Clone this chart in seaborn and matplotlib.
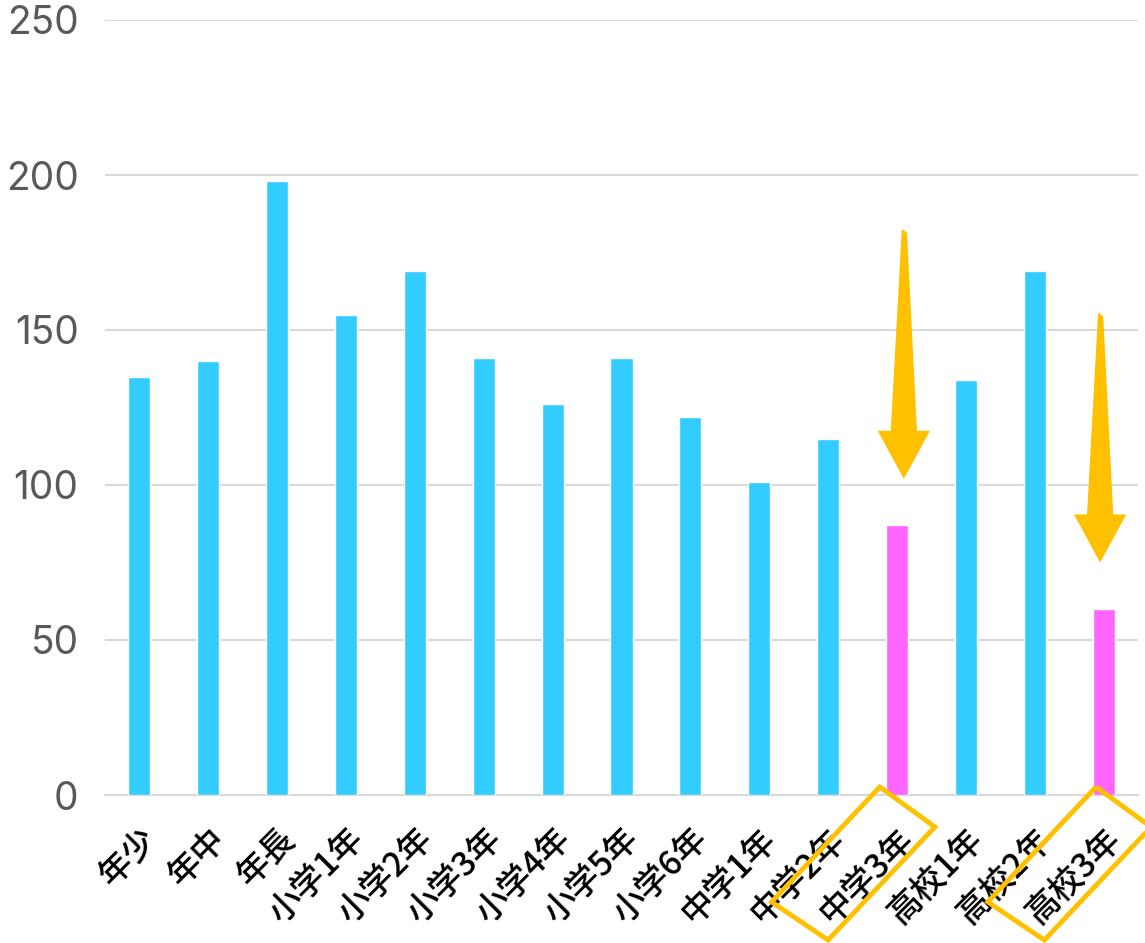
import matplotlib
matplotlib.use("Agg")
import matplotlib.pyplot as plt
from matplotlib.patches import Polygon
import seaborn as sns
import pandas as pd

# 学年ごとの値
grades = ["年少", "年中", "年長", "小学1年", "小学2年", "小学3年", "小学4年", "小学5年",
          "小学6年", "中学1年", "中学2年", "中学3年", "高校1年", "高校2年", "高校3年"]
values = [135, 140, 198, 155, 169, 141, 126, 141, 122, 101, 115, 87, 134, 169, 60]
highlighted = ["中学3年", "高校3年"]
y_ticks = [0, 50, 100, 150, 200, 250]

BLUE = "#33CCFF"
PINK = "#FF66FF"
GOLD = "#FFC000"
GRID = "#D9D9D9"

sns.set_theme(style="white")
plt.rcParams["font.family"] = ["Noto Sans CJK JP", "DejaVu Sans"]

df = pd.DataFrame({"grade": grades, "value": values})
colors = [PINK if g in highlighted else BLUE for g in grades]

fig = plt.figure(figsize=(11.45, 9.43), dpi=100)
ax = fig.add_axes([105 / 1145, 1 - 795 / 943, (1138 - 105) / 1145, (795 - 20) / 943])

sns.barplot(data=df, x="grade", y="value", hue="grade", palette=colors,
            width=0.32, saturation=1, legend=False, ax=ax, zorder=3)

ax.set_xlim(-0.5, len(grades) - 0.5)
ax.set_ylim(0, 250)
ax.set_yticks(y_ticks)
ax.set_yticklabels([str(t) for t in y_ticks], fontsize=28, color="#595959",
                   family=["Inter", "DejaVu Sans"], fontweight="normal")
ax.yaxis.grid(True, color=GRID, linewidth=1.5, zorder=0)
ax.set_axisbelow(True)
for s in ["top", "right", "left"]:
    ax.spines[s].set_visible(False)
ax.spines["bottom"].set_color(GRID)
ax.spines["bottom"].set_linewidth(1.5)
ax.tick_params(axis="y", length=0, pad=19)
ax.tick_params(axis="x", length=0, pad=19)
ax.set_xlabel("")
ax.set_ylabel("")
for lbl in ax.get_xticklabels():
    lbl.set_rotation(45)
    lbl.set_ha("right")
    lbl.set_rotation_mode("anchor")
    lbl.set_fontsize(24)
    lbl.set_fontweight("medium")
    lbl.set_color("black")

# 下向きの矢印（先細りの軸 + 三角形の矢じり）
def down_arrow(ax, x, tip):
    pts = [
        (x - 0.03, tip + 80.5), (x + 0.045, tip + 79.5),
        (x + 0.19, tip + 15.5), (x + 0.38, tip + 15.5),
        (x, tip), (x - 0.38, tip + 15.5),
        (x - 0.19, tip + 15.5),
    ]
    ax.add_patch(Polygon(pts, closed=True, facecolor=GOLD, edgecolor="none", zorder=4))

# 強調するラベルを囲む枠
def label_box(ax, x, dx):
    pts = [(x - 0.25 + dx, 2.6), (x + 0.55 + dx, -10.3),
           (x - 1.0 + dx, -46.8), (x - 1.82 + dx, -34.5)]
    ax.add_patch(Polygon(pts, closed=True, facecolor="none", edgecolor=GOLD,
                         linewidth=3.5, clip_on=False, zorder=5))

for g, dx, shift in zip(highlighted, [0.0, 0.14], [0.1, -0.05]):
    i = grades.index(g)
    down_arrow(ax, i + shift, values[i] + 15)
    label_box(ax, i, dx)

fig.savefig("out.png", dpi=100)
